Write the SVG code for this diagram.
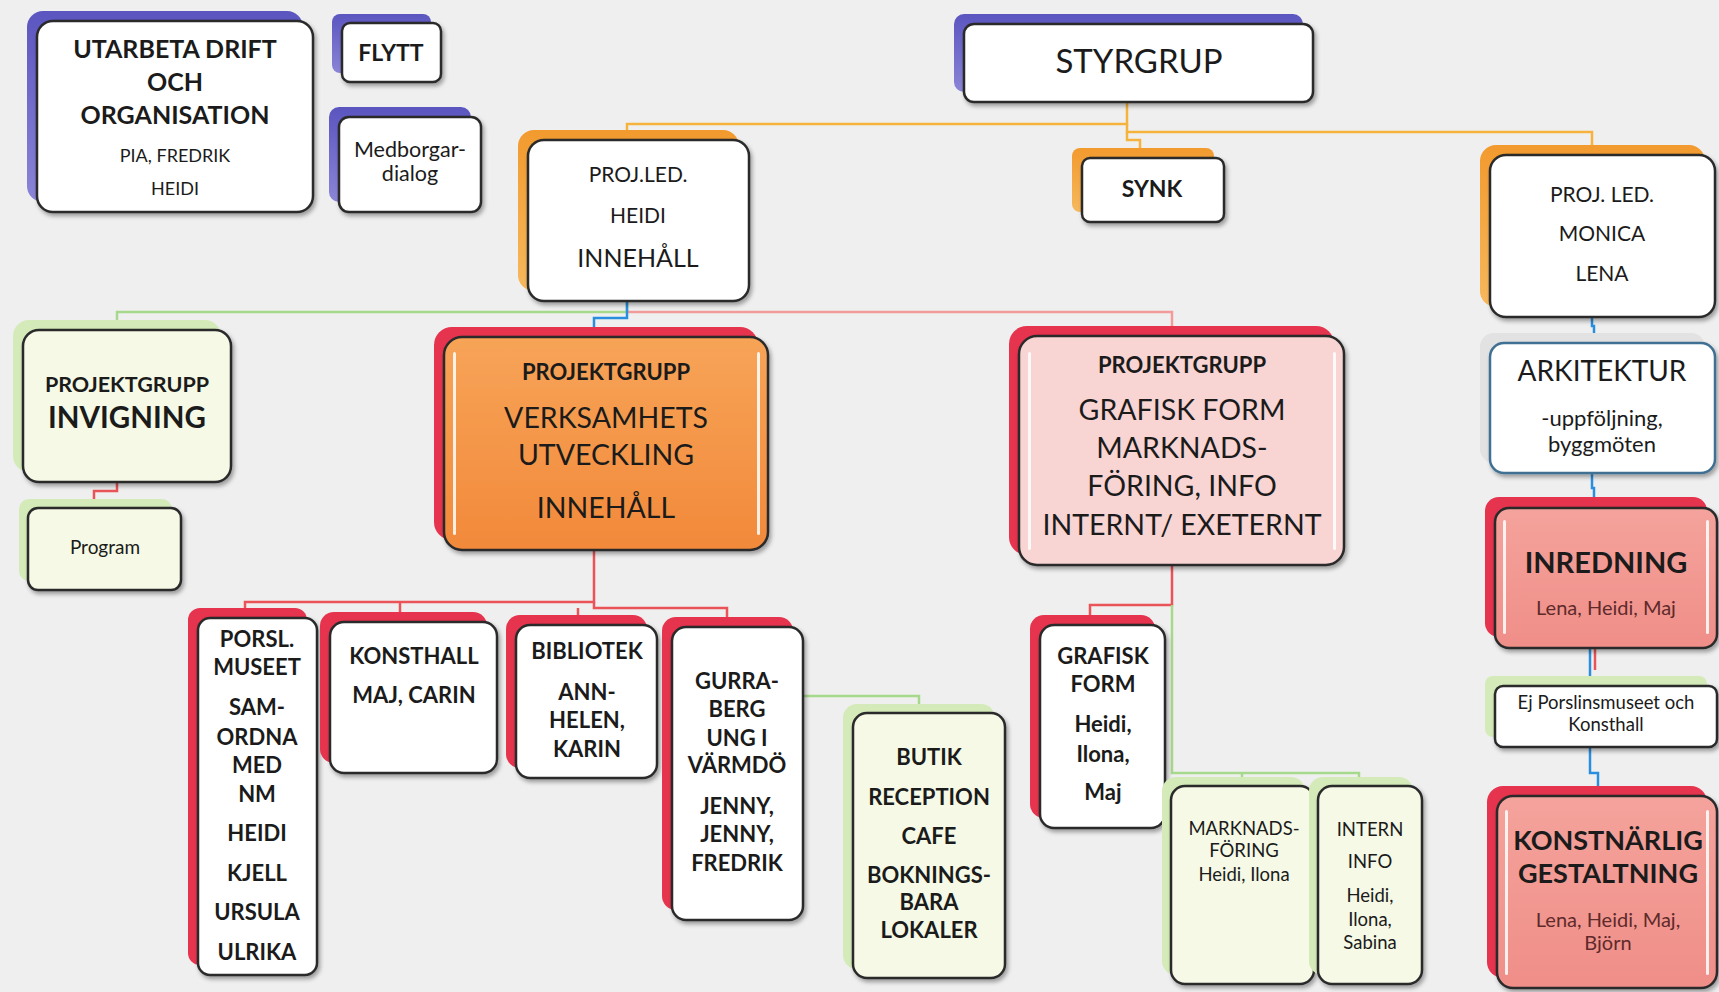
<svg xmlns="http://www.w3.org/2000/svg" width="1719" height="992" viewBox="0 0 1719 992">
<defs>
<filter id="sh" x="-10%" y="-10%" width="130%" height="130%">
<feDropShadow dx="2" dy="3" stdDeviation="2" flood-color="#000" flood-opacity="0.35"/>
</filter>
<linearGradient id="gP" x1="0" y1="0" x2="0" y2="1"><stop offset="0" stop-color="#5b55c0"/><stop offset="1" stop-color="#8a85d6"/></linearGradient>
<linearGradient id="gO" x1="0" y1="0" x2="0" y2="1"><stop offset="0" stop-color="#f29a2e"/><stop offset="1" stop-color="#f6b85c"/></linearGradient>
<linearGradient id="gOf" x1="0" y1="0" x2="0" y2="1"><stop offset="0" stop-color="#f7a458"/><stop offset="1" stop-color="#f2893a"/></linearGradient>
<linearGradient id="gS" x1="0" y1="0" x2="0" y2="1"><stop offset="0" stop-color="#f4a39c"/><stop offset="1" stop-color="#f08e88"/></linearGradient>
<style>
.bg{fill:#efefef}
.fr{stroke:#2b2b2b;stroke-width:2.5;filter:url(#sh)}
.w{fill:#ffffff}
.cg{fill:#f5f9e5}
.pk{fill:#f8d4d3}
.sa{fill:url(#gS)}
.or{fill:url(#gOf)}
.bp{fill:url(#gP)}
.bo{fill:url(#gO)}
.br{fill:#e6334e}
.bgn{fill:#d4ebb9}
.bgy{fill:#e2e2e2}
.ark{stroke:#3f6f92}
.gl{fill:#ffffff;opacity:0.85}
text{font-family:Lato,"Liberation Sans",sans-serif;fill:#1b1b1b;text-anchor:middle}
.b{font-weight:700}
.dr{fill:#5e2a2a}
.c{fill:none;stroke-width:2.5}
.co{stroke:#f5b33d}
.cgn{stroke:#a7d98c}
.cb{stroke:#2a8ee0}
.cr{stroke:#ea5458}
.cpk{stroke:#f19b9b}
.k{font-weight:700;font-size:22px}
</style>
</defs>
<rect class="bg" x="0" y="0" width="1719" height="992"/>

<g id="connectors">
<path class="c co" d="M1127 102 V124 H627 V132"/>
<path class="c co" d="M1127 124 V132 H1592 V146"/>
<path class="c co" d="M1127 132 V140 H1140 V149"/>
<path class="c cgn" d="M627 301 V312 H117 V321"/>
<path class="c cpk" d="M627 312 H1172 V327"/>
<path class="c cb" d="M627 301 V318 H594 V328"/>
<path class="c cr" d="M117 483 V491 H94 V499"/>
<path class="c cr" d="M594 550 V602 H245 V610"/>
<path class="c cr" d="M400 602 V614"/>
<path class="c cr" d="M594 602 V608 H727 V619"/>
<path class="c cr" d="M578 608 V617"/>
<path class="c cgn" d="M760 696 H919 V705"/>
<path class="c cr" d="M1172 565 V605 H1090 V616"/>
<path class="c cgn" d="M1172 605 V773 H1359 V778"/>
<path class="c cgn" d="M1242 773 V778"/>
<path class="c cb" d="M1592 317 V326 H1594 V334"/>
<path class="c cb" d="M1592 473 V488 H1594 V498"/>
<path class="c cb" d="M1590 648 V677"/>
<path class="c cr" d="M1595 648 V670" stroke-width="1.5"/>
<path class="c cb" d="M1590 746 V773 H1598 V788"/>
</g>

<g id="n-utarbeta">
<rect class="bp" x="27" y="11" width="276" height="191" rx="16"/>
<rect class="fr w" x="37" y="21" width="276" height="191" rx="16"/>
<text class="b" x="175" y="58" font-size="25">UTARBETA DRIFT</text>
<text class="b" x="175" y="91" font-size="25">OCH</text>
<text class="b" x="175" y="124" font-size="25">ORGANISATION</text>
<text x="175" y="162" font-size="18">PIA, FREDRIK</text>
<text x="175" y="195" font-size="18">HEIDI</text>
</g>

<g id="n-flytt">
<rect class="bp" x="332" y="14" width="99" height="59" rx="8"/>
<rect class="fr w" x="342" y="23" width="99" height="59" rx="8"/>
<text class="b" x="391" y="61" font-size="23">FLYTT</text>
</g>

<g id="n-medborgar">
<rect class="bp" x="329" y="107" width="142" height="95" rx="10"/>
<rect class="fr w" x="339" y="117" width="142" height="95" rx="10"/>
<text x="410" y="157" font-size="21.5">Medborgar-</text>
<text x="410" y="181" font-size="21.5">dialog</text>
</g>

<g id="n-styrgrup">
<rect class="bp" x="954" y="14" width="349" height="78" rx="10"/>
<rect class="fr w" x="964" y="24" width="349" height="78" rx="10"/>
<text x="1139" y="73" font-size="33">STYRGRUP</text>
</g>

<g id="n-projled-heidi">
<rect class="bo" x="518" y="130" width="221" height="161" rx="16"/>
<rect class="fr w" x="528" y="140" width="221" height="161" rx="16"/>
<text x="638" y="182" font-size="21">PROJ.LED.</text>
<text x="638" y="223" font-size="21">HEIDI</text>
<text x="638" y="267" font-size="25">INNEHÅLL</text>
</g>

<g id="n-synk">
<rect class="bo" x="1072" y="148" width="142" height="64" rx="8"/>
<rect class="fr w" x="1082" y="158" width="142" height="64" rx="8"/>
<text class="b" x="1152" y="197" font-size="23">SYNK</text>
</g>

<g id="n-projled-monica">
<rect class="bo" x="1480" y="145" width="225" height="162" rx="16"/>
<rect class="fr w" x="1490" y="155" width="225" height="162" rx="16"/>
<text x="1602" y="202" font-size="21">PROJ. LED.</text>
<text x="1602" y="241" font-size="21">MONICA</text>
<text x="1602" y="281" font-size="21">LENA</text>
</g>

<g id="n-arkitektur">
<rect class="bgy" x="1480" y="333" width="225" height="130" rx="14"/>
<rect class="fr w ark" x="1490" y="343" width="225" height="130" rx="14"/>
<text x="1602" y="381" font-size="28">ARKITEKTUR</text>
<text x="1602" y="426" font-size="22">-uppföljning,</text>
<text x="1602" y="452" font-size="22">byggmöten</text>
</g>

<g id="n-inredning">
<rect class="br" x="1485" y="497" width="222" height="140" rx="14"/>
<rect class="fr sa" x="1495" y="508" width="222" height="140" rx="14"/>
<rect class="gl" x="1503" y="520" width="3" height="114" rx="1.5"/>
<rect class="gl" x="1706" y="520" width="3" height="114" rx="1.5"/>
<text class="b" x="1606" y="573" font-size="29">INREDNING</text>
<text class="dr" x="1606" y="615" font-size="20">Lena, Heidi, Maj</text>
</g>

<g id="n-ej-porslins">
<rect class="bgn" x="1485" y="676" width="222" height="61" rx="8"/>
<rect class="fr w" x="1495" y="686" width="222" height="61" rx="8"/>
<text x="1606" y="709" font-size="18.5">Ej Porslinsmuseet och</text>
<text x="1606" y="731" font-size="18.5">Konsthall</text>
</g>

<g id="n-konstnarlig">
<rect class="br" x="1487" y="786" width="220" height="192" rx="16"/>
<rect class="fr sa" x="1497" y="796" width="220" height="192" rx="16"/>
<rect class="gl" x="1505" y="810" width="3" height="165" rx="1.5"/>
<rect class="gl" x="1706" y="810" width="3" height="165" rx="1.5"/>
<text class="b" x="1608" y="850" font-size="27">KONSTNÄRLIG</text>
<text class="b" x="1608" y="883" font-size="27">GESTALTNING</text>
<text class="dr" x="1608" y="927" font-size="20">Lena, Heidi, Maj,</text>
<text class="dr" x="1608" y="950" font-size="20">Björn</text>
</g>

<g id="n-invigning">
<rect class="bgn" x="13" y="320" width="208" height="152" rx="16"/>
<rect class="fr cg" x="23" y="330" width="208" height="152" rx="16"/>
<text class="b" x="127" y="392" font-size="21.5">PROJEKTGRUPP</text>
<text class="b" x="127" y="428" font-size="29.5">INVIGNING</text>
</g>

<g id="n-program">
<rect class="bgn" x="19" y="499" width="153" height="82" rx="10"/>
<rect class="fr cg" x="28" y="508" width="153" height="82" rx="10"/>
<text x="105" y="554" font-size="19">Program</text>
</g>

<g id="n-verksamhets">
<rect class="br" x="434" y="327" width="324" height="213" rx="18"/>
<rect class="fr or" x="444" y="337" width="324" height="213" rx="18"/>
<rect class="gl" x="453" y="352" width="3" height="183" rx="1.5"/>
<rect class="gl" x="757" y="352" width="3" height="183" rx="1.5"/>
<text class="b" x="606" y="380" font-size="22">PROJEKTGRUPP</text>
<text x="606" y="428" font-size="28.5">VERKSAMHETS</text>
<text x="606" y="465" font-size="28.5">UTVECKLING</text>
<text x="606" y="518" font-size="28.5">INNEHÅLL</text>
</g>

<g id="n-grafisk-projekt">
<rect class="br" x="1009" y="326" width="325" height="229" rx="18"/>
<rect class="fr pk" x="1019" y="336" width="325" height="229" rx="18"/>
<rect class="gl" x="1028" y="352" width="3" height="198" rx="1.5"/>
<rect class="gl" x="1333" y="352" width="3" height="198" rx="1.5"/>
<text class="b" x="1182" y="373" font-size="22">PROJEKTGRUPP</text>
<text x="1182" y="420" font-size="28.5">GRAFISK FORM</text>
<text x="1182" y="458" font-size="28.5">MARKNADS-</text>
<text x="1182" y="496" font-size="28.5">FÖRING, INFO</text>
<text x="1182" y="535" font-size="28.5">INTERNT/ EXETERNT</text>
</g>

<g id="n-porsl">
<rect class="br" x="188" y="608" width="119" height="357" rx="12"/>
<rect class="fr w" x="198" y="618" width="119" height="357" rx="12"/>
<text class="k" x="257" y="647">PORSL.</text>
<text class="k" x="257" y="675">MUSEET</text>
<text class="k" x="257" y="715">SAM-</text>
<text class="k" x="257" y="745">ORDNA</text>
<text class="k" x="257" y="773">MED</text>
<text class="k" x="257" y="802">NM</text>
<text class="k" x="257" y="841">HEIDI</text>
<text class="k" x="257" y="881">KJELL</text>
<text class="k" x="257" y="920">URSULA</text>
<text class="k" x="257" y="960">ULRIKA</text>
</g>

<g id="n-konsthall">
<rect class="br" x="320" y="612" width="167" height="151" rx="14"/>
<rect class="fr w" x="330" y="622" width="167" height="151" rx="14"/>
<text class="k" x="414" y="664">KONSTHALL</text>
<text class="k" x="414" y="703">MAJ, CARIN</text>
</g>

<g id="n-bibliotek">
<rect class="br" x="506" y="615" width="141" height="153" rx="14"/>
<rect class="fr w" x="516" y="625" width="141" height="153" rx="14"/>
<text class="k" x="587" y="659">BIBLIOTEK</text>
<text class="k" x="587" y="700">ANN-</text>
<text class="k" x="587" y="728">HELEN,</text>
<text class="k" x="587" y="757">KARIN</text>
</g>

<g id="n-gurra">
<rect class="br" x="662" y="617" width="131" height="293" rx="14"/>
<rect class="fr w" x="672" y="627" width="131" height="293" rx="14"/>
<text class="k" x="737" y="689">GURRA-</text>
<text class="k" x="737" y="717">BERG</text>
<text class="k" x="737" y="746">UNG I</text>
<text class="k" x="737" y="773">VÄRMDÖ</text>
<text class="k" x="737" y="814">JENNY,</text>
<text class="k" x="737" y="842">JENNY,</text>
<text class="k" x="737" y="871">FREDRIK</text>
</g>

<g id="n-butik">
<rect class="bgn" x="843" y="704" width="152" height="265" rx="14"/>
<rect class="fr cg" x="853" y="713" width="152" height="265" rx="14"/>
<text class="k" x="929" y="765">BUTIK</text>
<text class="k" x="929" y="805">RECEPTION</text>
<text class="k" x="929" y="844">CAFE</text>
<text class="k" x="929" y="883">BOKNINGS-</text>
<text class="k" x="929" y="910">BARA</text>
<text class="k" x="929" y="938">LOKALER</text>
</g>

<g id="n-grafisk-form">
<rect class="br" x="1030" y="615" width="125" height="203" rx="14"/>
<rect class="fr w" x="1040" y="625" width="125" height="203" rx="14"/>
<text class="k" x="1103" y="664">GRAFISK</text>
<text class="k" x="1103" y="692">FORM</text>
<text class="k" x="1103" y="732">Heidi,</text>
<text class="k" x="1103" y="762">Ilona,</text>
<text class="k" x="1103" y="800">Maj</text>
</g>

<g id="n-marknads">
<rect class="bgn" x="1162" y="777" width="143" height="198" rx="14"/>
<rect class="fr cg" x="1171" y="786" width="143" height="198" rx="14"/>
<text x="1244" y="835" font-size="18.5">MARKNADS-</text>
<text x="1244" y="857" font-size="18.5">FÖRING</text>
<text x="1244" y="881" font-size="18.5">Heidi, Ilona</text>
</g>

<g id="n-intern">
<rect class="bgn" x="1309" y="777" width="104" height="198" rx="14"/>
<rect class="fr cg" x="1318" y="786" width="104" height="198" rx="14"/>
<text x="1370" y="836" font-size="18.5">INTERN</text>
<text x="1370" y="868" font-size="18.5">INFO</text>
<text x="1370" y="902" font-size="18.5">Heidi,</text>
<text x="1370" y="926" font-size="18.5">Ilona,</text>
<text x="1370" y="949" font-size="18.5">Sabina</text>
</g>
</svg>
